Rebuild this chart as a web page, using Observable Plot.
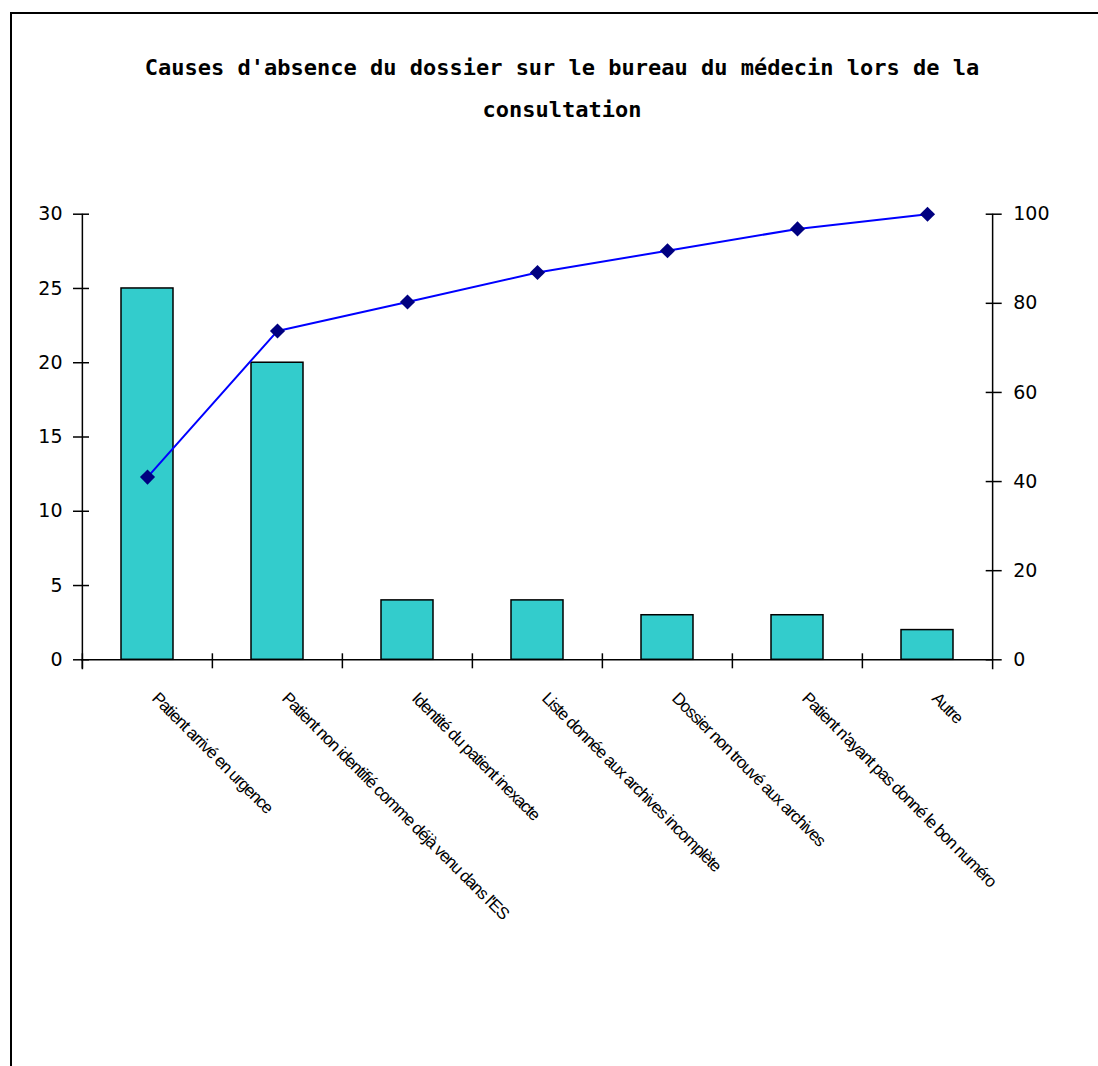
<!DOCTYPE html>
<html>
<head>
<meta charset="utf-8">
<script src="https://cdn.jsdelivr.net/npm/d3@7"></script>
<script src="https://cdn.jsdelivr.net/npm/@observablehq/plot@0.6"></script>
<style>
html, body { margin: 0; padding: 0; background: #fff; width: 1098px; height: 1066px; overflow: hidden; }
#frame { position: absolute; left: 10px; top: 12px; width: 3000px; height: 3000px; border: 2px solid #000; }
#title { position: absolute; left: 112px; top: 47px; width: 900px; text-align: center;
  font-family: "DejaVu Sans Mono", monospace; font-weight: bold; font-size: 22px; line-height: 42px; color: #000; }
#chart { position: absolute; left: 0; top: 140px; }
</style>
</head>
<body>
<div id="frame"></div>
<div id="title">Causes d'absence du dossier sur le bureau du médecin lors de la consultation</div>
<div id="chart"></div>
<script>
const categories = [
  "Patient arrivé en urgence",
  "Patient non identifié comme déjà venu dans l'ES",
  "Identité du patient inexacte",
  "Liste donnée aux archives incomplète",
  "Dossier non trouvé aux archives",
  "Patient n'ayant pas donné le bon numéro",
  "Autre"
];
const counts = [25, 20, 4, 4, 3, 3, 2];
const cumulativePct = [41, 73.8, 80.3, 86.9, 91.8, 96.7, 100];
const leftTicks = [0, 5, 10, 15, 20, 25, 30];
const rightTicks = [0, 20, 40, 60, 80, 100];

const leftMax = 30, rightMax = 100;
const toLeft = v => v * leftMax / rightMax;

const data = categories.map((c, i) => ({cat: c, count: counts[i], pct: cumulativePct[i]}));

const W = 1098, H = 926, mL = 81, mR = 105.3, mT = 73.7, mB = 406.7;
const step = (W - mL - mR) / categories.length;
const first = categories[0], last = categories[categories.length - 1];

const chart = Plot.plot({
  width: W, height: H,
  marginTop: mT, marginBottom: mB, marginLeft: mL, marginRight: mR,
  style: {fontFamily: "DejaVu Sans", fontSize: "19px", color: "#000", background: "transparent", overflow: "visible"},
  x: {domain: categories, paddingInner: 0.6, paddingOuter: 0.3, axis: null, label: null},
  y: {domain: [0, leftMax], axis: null, label: null},
  marks: [
    Plot.barY(data, {x: "cat", y: "count", fill: "#33CCCC", stroke: "#000", strokeWidth: 1.5}),
    Plot.ruleY([0], {stroke: "#000", strokeWidth: 1.5}),
    Plot.ruleX([first], {x: d => d, dx: -step / 2, y1: leftMax, y2: 0, insetBottom: -10, stroke: "#000", strokeWidth: 1.5}),
    Plot.ruleX([last], {x: d => d, dx: step / 2, y1: leftMax, y2: 0, insetBottom: -10, stroke: "#000", strokeWidth: 1.5}),
    Plot.ruleX(categories, {x: d => d, dx: -step / 2, y1: 0, y2: 0, insetTop: -6, insetBottom: -9, stroke: "#000", strokeWidth: 1.5}),
    Plot.axisY({anchor: "left", ticks: leftTicks, label: null, tickSize: 16, dx: 8, tickPadding: 11, strokeWidth: 1.5, fontSize: 19}),
    Plot.axisY({anchor: "right", ticks: rightTicks.map(toLeft), label: null, tickFormat: d => String(Math.round(d * rightMax / leftMax)),
      tickSize: 16, dx: -8, tickPadding: 12, strokeWidth: 1.5, fontSize: 19}),
    Plot.lineY(data, {x: "cat", y: d => toLeft(d.pct), stroke: "#0000FF", strokeWidth: 2}),
    Plot.dot(data, {x: "cat", y: d => toLeft(d.pct), symbol: "diamond2", r: 6.8, fill: "#000080", stroke: "none"}),
    Plot.text(categories, {x: d => d, y: 0, text: d => d, rotate: 45, textAnchor: "start", lineAnchor: "top",
      dx: 12, dy: 31, fontSize: 17, fontFamily: "Liberation Sans Narrow, Liberation Sans, sans-serif", fill: "#000"})
  ]
});
d3.select(chart).selectAll("g[aria-label='text'] text").style("letter-spacing", "-1.1px");
document.getElementById("chart").appendChild(chart);
</script>
</body>
</html>
